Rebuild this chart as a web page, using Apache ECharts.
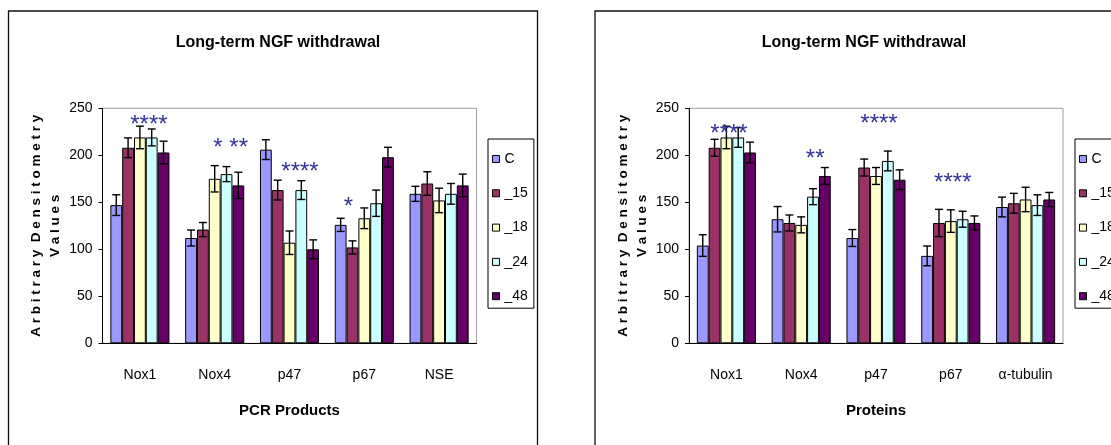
<!DOCTYPE html>
<html><head><meta charset="utf-8">
<script src="https://cdn.jsdelivr.net/npm/echarts@6/dist/echarts.min.js"></script>
<style>html,body{margin:0;padding:0;background:#fff}#c{width:1111px;height:445px}</style>
</head><body><div id="c"></div>
<script>
// ---------- data ----------
const seriesNames = ['C', '_15', '_18', '_24', '_48'];
const pcrCategories = ['Nox1', 'Nox4', 'p47', 'p67', 'NSE'];
const proteinCategories = ['Nox1', 'Nox4', 'p47', 'p67', 'α-tubulin'];
const yTickValues = [0, 50, 100, 150, 200, 250];

// PCR products (left chart)
const pcrC   = [147, 112, 206, 126, 159];
const pcr15  = [208, 121, 163, 102, 170];
const pcr18  = [219, 175, 107, 133, 152];
const pcr24  = [219, 180, 163, 149, 159];
const pcr48  = [203, 168, 100, 198, 168];
const pcrErrC  = [11, 8.5, 10.5, 7, 8];
const pcrErr15 = [10.5, 7.5, 10.5, 7, 12.5];
const pcrErr18 = [12, 14, 12.5, 11, 13];
const pcrErr24 = [9, 8, 10, 14, 11];
const pcrErr48 = [12, 14, 10, 10.5, 12];

// Proteins (right chart)
const protC   = [104, 132, 112, 93, 145];
const prot15  = [208, 128, 187, 128, 149];
const prot18  = [219, 126, 178, 130, 153];
const prot24  = [219, 156, 194, 132, 147];
const prot48  = [203, 178, 174, 128, 153];
const protErrC  = [11.5, 13.5, 9, 10.5, 10.5];
const protErr15 = [9, 8.5, 9, 14.5, 10.5];
const protErr18 = [12, 8.5, 9, 12, 13];
const protErr24 = [10.5, 8.5, 10.5, 8.5, 11];
const protErr48 = [11, 9, 10.5, 7.5, 7.5];

// significance marks
const pcrStarCats   = ['Nox1', 'Nox4', 'p47', 'p67'];
const pcrStarValues = [238, 214, 188, 151];
const pcrStarTexts  = ['****', '* **', '****', '*'];
const protStarCats   = ['Nox1', 'Nox4', 'p47', 'p67'];
const protStarValues = [229, 202, 239, 176];
const protStarTexts  = ['****', '**', '****', '****'];

// ---------- styling / layout ----------
const colors = ['#9999ff', '#993366', '#ffffcc', '#ccffff', '#660066'];
const FONT = "'Liberation Sans', Arial, sans-serif";
const GAP = 0.21;
const pcrStarDx  = [9, 16, 10.5, -15.8];
const protStarDx = [2.6, 14, 3, 2];

const pcrVals = [pcrC, pcr15, pcr18, pcr24, pcr48];
const pcrErrs = [pcrErrC, pcrErr15, pcrErr18, pcrErr24, pcrErr48];
const protVals = [protC, prot15, prot18, prot24, prot48];
const protErrs = [protErrC, protErr15, protErr18, protErr24, protErr48];

function starMarks(cats, vals, texts, dx) {
  return {
    symbol: 'circle', symbolSize: 1, silent: true,
    itemStyle: { color: 'rgba(0,0,0,0)', borderWidth: 0 },
    data: cats.map((c, i) => ({
      coord: [c, vals[i]],
      label: {
        show: true, position: 'inside', formatter: texts[i],
        offset: [dx[i], 6], color: '#333399', fontSize: 24,
        fontFamily: FONT
      }
    }))
  };
}

function barSeries(g, vals, stars) {
  return seriesNames.map((n, s) => {
    const o = {
      type: 'bar', name: n, xAxisIndex: g, yAxisIndex: g,
      data: vals[s], barGap: '0%', barCategoryGap: (GAP * 100) + '%',
      itemStyle: { color: colors[s], borderColor: '#000', borderWidth: 1 },
      emphasis: { disabled: true }, z: 2
    };
    if (s === 2) o.markPoint = stars;
    return o;
  });
}

function errSeries(g, vals, errs) {
  return seriesNames.map((n, s) => ({
    type: 'custom', xAxisIndex: g, yAxisIndex: g, z: 5, silent: true,
    data: vals[s].map((v, i) => [i, v, errs[s][i]]),
    encode: { x: 0, y: 1 },
    renderItem(params, api) {
      const ci = api.value(0), v = api.value(1), e = api.value(2);
      const band = api.size([1, 0])[0];
      const bw = band * (1 - GAP) / 5;
      const cx = api.coord([ci, v])[0] + (s - 2) * bw;
      const yT = api.coord([ci, v + e])[1];
      const yB = api.coord([ci, v - e])[1];
      const cap = 4;
      const st = { stroke: '#000', lineWidth: 1.4 };
      return { type: 'group', children: [
        { type: 'line', shape: { x1: cx, y1: yT, x2: cx, y2: yB }, style: st },
        { type: 'line', shape: { x1: cx - cap, y1: yT, x2: cx + cap, y2: yT }, style: st },
        { type: 'line', shape: { x1: cx - cap, y1: yB, x2: cx + cap, y2: yB }, style: st }
      ]};
    }
  }));
}

function xAxis(g, cats, name) {
  return {
    type: 'category', gridIndex: g, data: cats,
    axisLine: { lineStyle: { color: '#000', width: 1 } },
    axisTick: { length: 6, lineStyle: { color: '#000' } },
    axisLabel: { interval: 0, margin: 25, fontSize: 14, color: '#000', fontFamily: FONT },
    name: name, nameLocation: 'middle', nameGap: 60,
    nameTextStyle: { fontWeight: 'bold', fontSize: 15, color: '#000', fontFamily: FONT }
  };
}
function yAxis(g) {
  return {
    type: 'value', gridIndex: g, min: yTickValues[0], max: yTickValues[yTickValues.length - 1],
    interval: yTickValues[1] - yTickValues[0],
    axisLine: { show: true, lineStyle: { color: '#000', width: 1 } },
    axisTick: { show: true, length: 4, lineStyle: { color: '#000' } },
    splitLine: { show: false },
    axisLabel: { margin: 10, fontSize: 14, color: '#000', fontFamily: FONT },
    name: 'A r b i t r a r y  D e n s i t o m e t r y\nV a l u e s',
    nameLocation: 'middle', nameRotate: 90, nameGap: 31,
    nameTextStyle: { fontWeight: 'bold', fontSize: 13.5, lineHeight: 19, color: '#000', fontFamily: FONT }
  };
}
function legend(left) {
  return {
    data: seriesNames, orient: 'vertical', left: left, top: 139,
    padding: [13, 6, 5, 4], itemGap: 20.3, itemWidth: 7, itemHeight: 7,
    icon: 'rect', borderColor: '#000', borderWidth: 1, selectedMode: false,
    itemStyle: { borderColor: '#000', borderWidth: 1 },
    textStyle: { fontSize: 14, lineHeight: 14, color: '#000', fontFamily: FONT }
  };
}

const titleText = 'Long-term NGF withdrawal';
const chart = echarts.init(document.getElementById('c'));
chart.setOption({
  backgroundColor: '#fff',
  animation: false,
  title: [
    { text: titleText, left: 273, top: 30, textAlign: 'center',
      textStyle: { fontSize: 16, fontWeight: 'bold', color: '#000', fontFamily: FONT } },
    { text: titleText, left: 859, top: 30, textAlign: 'center',
      textStyle: { fontSize: 16, fontWeight: 'bold', color: '#000', fontFamily: FONT } }
  ],
  legend: [legend(488), legend(1075)],
  grid: [
    { left: 102.5, top: 108.3, width: 374, height: 235, show: true, borderColor: '#a0a0a0', borderWidth: 1 },
    { left: 689, top: 108.3, width: 374, height: 235, show: true, borderColor: '#a0a0a0', borderWidth: 1 }
  ],
  xAxis: [xAxis(0, pcrCategories, 'PCR Products'), xAxis(1, proteinCategories, 'Proteins')],
  yAxis: [yAxis(0), yAxis(1)],
  graphic: [
    { type: 'rect', silent: true, z: -10, shape: { x: 8.5, y: 11, width: 529, height: 450 },
      style: { fill: 'none', stroke: '#111', lineWidth: 1.3 } },
    { type: 'rect', silent: true, z: -10, shape: { x: 595, y: 11, width: 560, height: 450 },
      style: { fill: 'none', stroke: '#111', lineWidth: 1.3 } }
  ],
  series: [
    ...barSeries(0, pcrVals, starMarks(pcrStarCats, pcrStarValues, pcrStarTexts, pcrStarDx)),
    ...barSeries(1, protVals, starMarks(protStarCats, protStarValues, protStarTexts, protStarDx)),
    ...errSeries(0, pcrVals, pcrErrs),
    ...errSeries(1, protVals, protErrs)
  ]
});
</script></body></html>
